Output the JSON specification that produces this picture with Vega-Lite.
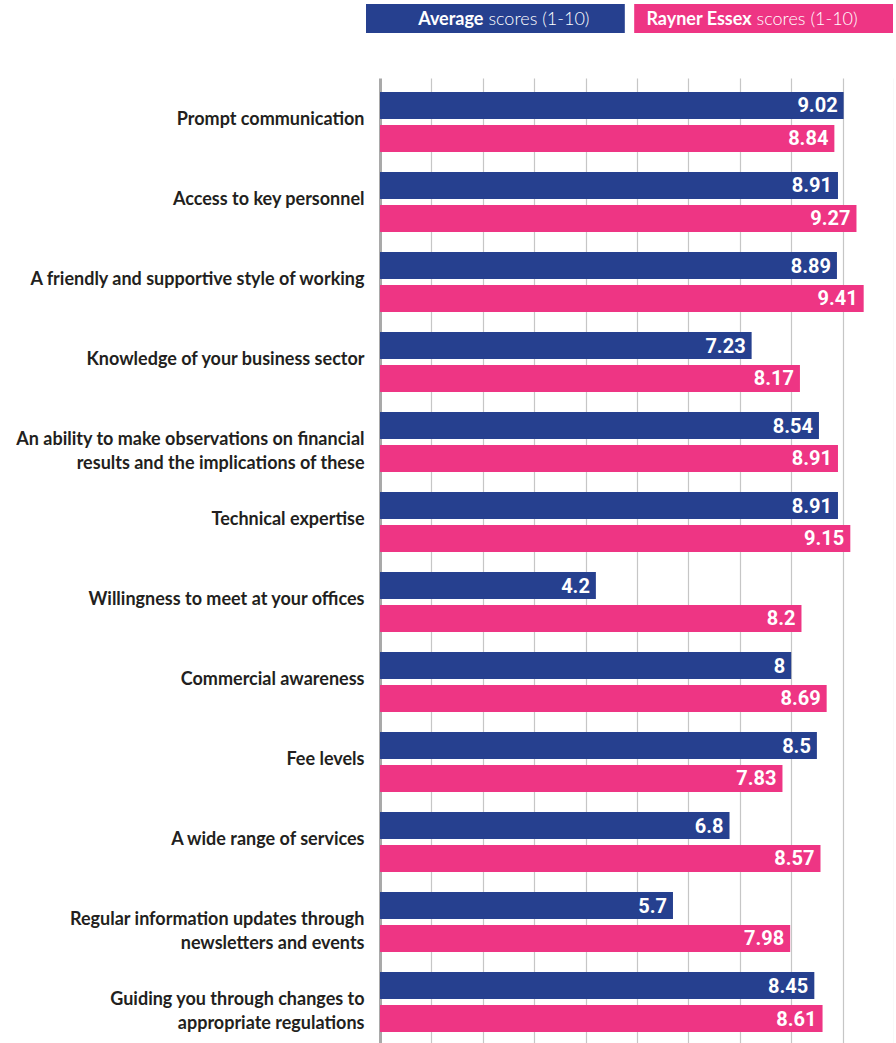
{
  "$schema": "https://vega.github.io/schema/vega-lite/v6.json",
  "padding": {"left": 0, "top": 4, "right": 0, "bottom": 0},
  "background": "white",
  "config": {"view": {"stroke": null}, "concat": {"spacing": 45}},
  "datasets": {
    "scores": [
      {"category": "Prompt communication", "series": "Average", "value": 9.02},
      {"category": "Prompt communication", "series": "Rayner Essex", "value": 8.84},
      {"category": "Access to key personnel", "series": "Average", "value": 8.91},
      {"category": "Access to key personnel", "series": "Rayner Essex", "value": 9.27},
      {"category": "A friendly and supportive style of working", "series": "Average", "value": 8.89},
      {"category": "A friendly and supportive style of working", "series": "Rayner Essex", "value": 9.41},
      {"category": "Knowledge of your business sector", "series": "Average", "value": 7.23},
      {"category": "Knowledge of your business sector", "series": "Rayner Essex", "value": 8.17},
      {"category": "An ability to make observations on financial\nresults and the implications of these", "series": "Average", "value": 8.54},
      {"category": "An ability to make observations on financial\nresults and the implications of these", "series": "Rayner Essex", "value": 8.91},
      {"category": "Technical expertise", "series": "Average", "value": 8.91},
      {"category": "Technical expertise", "series": "Rayner Essex", "value": 9.15},
      {"category": "Willingness to meet at your offices", "series": "Average", "value": 4.2},
      {"category": "Willingness to meet at your offices", "series": "Rayner Essex", "value": 8.2},
      {"category": "Commercial awareness", "series": "Average", "value": 8},
      {"category": "Commercial awareness", "series": "Rayner Essex", "value": 8.69},
      {"category": "Fee levels", "series": "Average", "value": 8.5},
      {"category": "Fee levels", "series": "Rayner Essex", "value": 7.83},
      {"category": "A wide range of services", "series": "Average", "value": 6.8},
      {"category": "A wide range of services", "series": "Rayner Essex", "value": 8.57},
      {"category": "Regular information updates through\nnewsletters and events", "series": "Average", "value": 5.7},
      {"category": "Regular information updates through\nnewsletters and events", "series": "Rayner Essex", "value": 7.98},
      {"category": "Guiding you through changes to\nappropriate regulations", "series": "Average", "value": 8.45},
      {"category": "Guiding you through changes to\nappropriate regulations", "series": "Rayner Essex", "value": 8.61}
    ],
    "legend": [
      {"series": "Average", "suffix": "scores (1-10)"},
      {"series": "Rayner Essex", "suffix": "scores (1-10)"}
    ]
  },
  "vconcat": [
    {
      "data": {"name": "legend"},
      "width": 513,
      "height": 29,
      "encoding": {
        "x": {"field": "series", "type": "nominal", "sort": null,
              "scale": {"paddingInner": 0.035, "paddingOuter": 0, "range": [-14, 513]}, "axis": null},
        "y": {"field": "suffix", "type": "nominal",
              "scale": {"paddingInner": 0, "paddingOuter": 0}, "axis": null}
      },
      "layer": [
        {
          "mark": {"type": "rect"},
          "encoding": {
            "color": {"field": "series", "type": "nominal",
                      "scale": {"domain": ["Average", "Rayner Essex"], "range": ["#26408f", "#ee3584"]},
                      "legend": null}
          }
        },
        {
          "mark": {"type": "text", "align": "right", "baseline": "middle", "dx": -12, "dy": 1,
                   "color": "white", "font": "Lato", "fontWeight": "bold", "fontSize": 18},
          "encoding": {"text": {"field": "series"}}
        },
        {
          "mark": {"type": "text", "align": "left", "baseline": "middle", "dx": -7, "dy": 1,
                   "color": "white", "font": "Lato", "fontWeight": 300, "fontSize": 18},
          "encoding": {"text": {"field": "suffix"}}
        }
      ]
    },
    {
      "data": {"name": "scores"},
      "width": 514,
      "height": 965,
      "encoding": {
        "y": {"field": "category", "type": "nominal", "sort": null,
              "scale": {"paddingInner": 0.25, "paddingOuter": 0.156, "align": 0.56},
              "axis": {"title": null, "ticks": false, "domain": true, "domainColor": "#a9a9a9", "domainWidth": 3,
                       "labelFont": "Lato", "labelFontWeight": "bold", "labelFontSize": 18,
                       "labelColor": "#231f20", "labelPadding": 16, "labelLimit": 400, "labelLineHeight": 24,
                       "labelOffset": -2,
                       "labelExpr": "split(datum.label, '\\n')",
                       "minExtent": 380, "maxExtent": 380}},
        "yOffset": {"field": "series", "type": "nominal", "sort": null, "scale": {"paddingInner": 0.18}},
        "x": {"field": "value", "type": "quantitative",
              "scale": {"domain": [0, 10], "nice": false},
              "axis": {"title": null, "labels": false, "ticks": false, "domain": false, "grid": true,
                       "gridColor": "#c6c6c6", "gridWidth": 1.2,
                       "values": [1, 2, 3, 4, 5, 6, 7, 8, 9, 10]}}
      },
      "layer": [
        {
          "mark": {"type": "bar"},
          "encoding": {
            "color": {"field": "series", "type": "nominal",
                      "scale": {"domain": ["Average", "Rayner Essex"], "range": ["#26408f", "#ee3584"]},
                      "legend": null}
          }
        },
        {
          "mark": {"type": "text", "align": "right", "baseline": "middle", "dx": -6, "dy": 1,
                   "color": "white", "font": "Roboto", "fontWeight": "bold", "fontSize": 20},
          "encoding": {"text": {"field": "value", "type": "quantitative", "format": "~g"}}
        }
      ]
    }
  ]
}
